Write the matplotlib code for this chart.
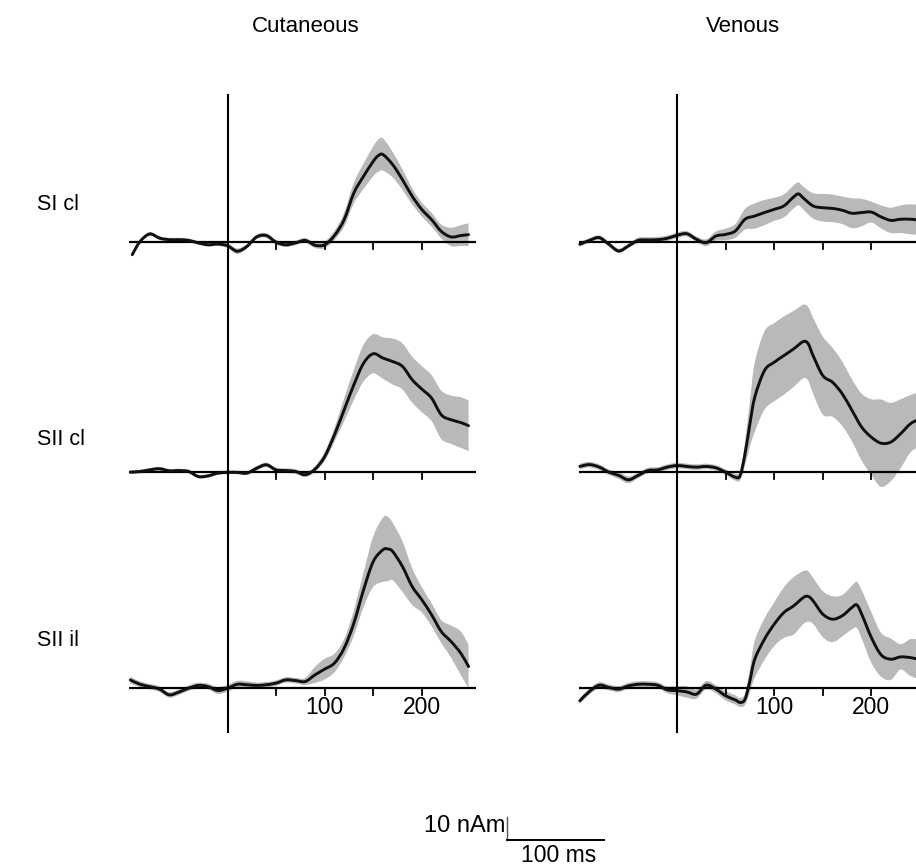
import numpy as np
import matplotlib
matplotlib.use("Agg")
import matplotlib.pyplot as plt
from matplotlib.path import Path
from matplotlib.patches import PathPatch

plt.rcParams['font.family'] = ['Liberation Sans', 'DejaVu Sans']

# ---------------- data (time in ms, amplitude in nAm) ----------------
columns = ["Cutaneous", "Venous"]
rows = ["SI cl", "SII cl", "SII il"]
tick_ms = [50, 100, 150, 200]
tick_labels = {100: "100", 200: "200"}

# Cutaneous, SI cl
cut_si_t = [-98, -90, -80, -70, -60, -50, -40, -30, -20, -10, 0, 10, 20, 30, 40, 50, 60, 70, 80, 90,
            100, 110, 120, 130, 140, 150, 155, 160, 170, 180, 190, 200, 210, 220, 230, 240, 248]
cut_si_m = [-5.5, 0.2, 3.5, 1.7, 1.0, 1.0, 0.7, -0.4, -1.2, -0.9, -1.6, -4.0, -1.9, 2.2, 2.8, -0.1, -1.2, -0.4, 0.7, -1.4,
            -1.2, 2.8, 9.7, 21.3, 28.6, 35.1, 37.5, 38.0, 33.6, 27.1, 19.9, 14.1, 9.7, 4.6, 2.2, 2.8, 3.2]
cut_si_e = [0.8, 0.8, 0.8, 0.8, 0.8, 0.8, 0.8, 0.8, 0.8, 0.8, 1.0, 1.2, 1.0, 1.0, 1.0, 1.0, 1.0, 1.0, 1.0, 1.2,
            1.5, 2.0, 3.0, 4.5, 5.5, 6.5, 7.0, 7.0, 5.5, 4.5, 3.5, 3.0, 3.0, 3.0, 4.0, 4.5, 5.0]

# Venous, SI cl
ven_si_t = [-100, -90, -80, -70, -60, -50, -40, -30, -20, -10, 0, 10, 20, 30, 40, 50, 60, 70, 80, 90,
            100, 110, 120, 125, 130, 140, 150, 160, 170, 180, 190, 200, 210, 220, 230, 240, 248]
ven_si_m = [-1.0, 0.7, 1.9, -1.0, -3.9, -1.7, 0.7, 0.9, 1.0, 1.6, 2.9, 3.6, 1.2, -0.3, 2.6, 3.3, 4.8, 9.9, 11.3, 12.8,
            14.2, 15.7, 19.6, 20.9, 19.1, 15.7, 14.9, 14.6, 13.8, 12.5, 12.8, 13.0, 10.9, 9.4, 9.9, 9.9, 9.6]
ven_si_e = [1.0, 1.0, 1.0, 1.0, 1.0, 1.0, 1.2, 1.2, 1.2, 1.2, 1.2, 1.2, 1.2, 1.5, 2.0, 2.5, 3.0, 4.5, 5.5, 5.5,
            5.0, 5.0, 5.0, 5.0, 5.0, 5.5, 6.0, 6.0, 6.0, 6.5, 6.0, 4.5, 5.0, 5.5, 6.0, 6.5, 6.5]

# Cutaneous, SII cl
cut_s2c_t = [-100, -90, -80, -70, -60, -50, -40, -30, -20, -10, 0, 10, 20, 30, 40, 50, 60, 70, 80, 90,
             100, 110, 120, 130, 140, 150, 160, 170, 180, 190, 200, 210, 220, 230, 240, 248]
cut_s2c_m = [-0.3, 0.0, 0.7, 1.2, 0.3, 0.4, 0.0, -2.2, -1.9, -0.7, -0.4, -0.4, -0.7, 1.4, 2.9, 0.7, 0.4, 0.0, -1.4, 1.0,
             6.5, 15.9, 26.8, 37.7, 47.1, 51.2, 49.3, 47.8, 45.7, 39.9, 35.8, 31.9, 24.6, 22.5, 21.3, 19.9]
cut_s2c_e = [0.8, 0.8, 0.8, 0.8, 0.8, 0.8, 0.8, 0.8, 0.8, 0.8, 0.8, 0.8, 0.8, 1.0, 1.0, 1.0, 1.0, 1.0, 1.0, 1.2,
             2.0, 3.0, 5.0, 6.5, 8.0, 8.5, 9.0, 10.0, 10.0, 10.0, 10.0, 10.0, 10.5, 10.5, 11.0, 11.0]

# Venous, SII cl
ven_s2c_t = [-100, -90, -80, -70, -60, -50, -40, -30, -20, -10, 0, 10, 20, 30, 40, 50, 60, 65, 70, 75, 80, 90,
             100, 110, 120, 130, 135, 140, 150, 160, 170, 180, 190, 200, 210, 220, 230, 240, 248]
ven_s2c_m = [2.2, 3.0, 1.9, -0.3, -1.7, -3.6, -1.7, 0.4, 0.7, 1.9, 2.6, 2.2, 1.9, 2.2, 1.6, -0.3, -2.5, -1.7, 7.7, 20.7, 32.3, 43.9,
             47.5, 50.4, 53.3, 56.5, 55.5, 50.4, 41.7, 38.8, 33.8, 26.6, 19.3, 14.9, 12.3, 12.8, 16.4, 20.7, 22.5]
ven_s2c_e = [1.2, 1.2, 1.2, 1.2, 1.5, 1.5, 1.2, 1.2, 1.2, 1.2, 1.2, 1.2, 1.2, 1.2, 1.2, 1.2, 1.5, 2.0, 5.0, 10.0, 15.0, 17.0,
             17.0, 17.0, 16.5, 16.0, 16.0, 16.5, 17.0, 15.0, 14.0, 13.5, 14.5, 16.5, 19.0, 17.0, 15.0, 12.5, 12.0]

# Cutaneous, SII il
cut_s2i_t = [-100, -90, -80, -70, -60, -50, -40, -30, -20, -10, 0, 10, 20, 30, 40, 50, 60, 70, 80, 90,
             100, 110, 120, 130, 140, 150, 160, 165, 170, 180, 190, 200, 210, 220, 230, 240, 248]
cut_s2i_m = [3.3, 1.4, 0.4, -0.7, -3.2, -2.0, -0.3, 0.9, 0.4, -1.3, -0.3, 1.4, 1.2, 0.9, 1.2, 1.9, 3.3, 3.0, 2.6, 5.5,
             8.0, 10.6, 17.1, 28.0, 42.5, 54.8, 59.9, 60.2, 59.1, 52.6, 43.9, 38.1, 31.6, 24.3, 20.0, 14.9, 9.1]
cut_s2i_e = [1.5, 1.2, 1.2, 1.2, 1.2, 1.2, 1.2, 1.2, 1.2, 1.5, 1.5, 1.5, 1.5, 1.2, 1.2, 1.2, 1.2, 1.2, 1.5, 3.5,
             4.5, 4.0, 4.0, 5.5, 7.5, 11.0, 14.0, 14.0, 12.5, 11.0, 8.0, 5.5, 5.0, 5.0, 7.0, 9.5, 9.5]

# Venous, SII il
ven_s2i_t = [-100, -90, -80, -70, -60, -50, -40, -30, -20, -10, 0, 10, 20, 30, 40, 50, 60, 65, 70, 75, 80, 90,
             100, 110, 120, 130, 135, 140, 150, 160, 170, 180, 185, 190, 200, 210, 220, 230, 240, 248]
ven_s2i_m = [-5.8, -1.7, 1.0, 0.0, -0.7, 0.7, 1.4, 1.4, 1.0, -1.0, -1.4, -1.9, -2.9, 1.0, -0.7, -3.6, -5.4, -6.5, -5.1, 2.9, 12.3, 21.0,
             27.5, 32.6, 35.5, 39.1, 39.6, 37.7, 31.9, 29.7, 31.2, 34.8, 35.9, 31.9, 21.7, 14.2, 12.3, 13.3, 13.0, 12.3]
ven_s2i_e = [1.3, 1.3, 1.3, 1.3, 1.3, 1.3, 1.3, 1.3, 1.3, 1.5, 2.0, 2.5, 2.0, 1.8, 1.8, 2.0, 2.0, 2.0, 2.5, 5.0, 8.0, 9.0,
             9.5, 11.0, 12.5, 11.5, 11.0, 10.0, 10.0, 10.0, 9.0, 9.5, 10.0, 10.5, 11.0, 9.5, 9.0, 5.5, 8.0, 8.5]

panels = {
    ("Cutaneous", "SI cl"): (cut_si_t, cut_si_m, cut_si_e),
    ("Venous", "SI cl"): (ven_si_t, ven_si_m, ven_si_e),
    ("Cutaneous", "SII cl"): (cut_s2c_t, cut_s2c_m, cut_s2c_e),
    ("Venous", "SII cl"): (ven_s2c_t, ven_s2c_m, ven_s2c_e),
    ("Cutaneous", "SII il"): (cut_s2i_t, cut_s2i_m, cut_s2i_e),
    ("Venous", "SII il"): (ven_s2i_t, ven_s2i_m, ven_s2i_e),
}

scale_nAm = 10
scale_ms = 100


# smooth (Catmull-Rom style Bezier) path through the given points; the curve
# passes exactly through every data point, only the drawing is rounded
def smooth_segments(x, y, first=True):
    verts, codes = [], []
    n = len(x)
    for i in range(n):
        if i == 0:
            verts.append((x[0], y[0]))
            codes.append(Path.MOVETO if first else Path.LINETO)
            continue
        x0, y0 = x[max(i - 2, 0)], y[max(i - 2, 0)]
        x1, y1 = x[i - 1], y[i - 1]
        x2, y2 = x[i], y[i]
        x3, y3 = x[min(i + 1, n - 1)], y[min(i + 1, n - 1)]
        c1 = (x1 + (x2 - x0) / 6.0, y1 + (y2 - y0) / 6.0)
        c2 = (x2 - (x3 - x1) / 6.0, y2 - (y3 - y1) / 6.0)
        verts += [c1, c2, (x2, y2)]
        codes += [Path.CURVE4] * 3
    return verts, codes


# ---------------- layout (pixels) ----------------
W, H = 916, 867
PX_MS = 0.972      # pixels per ms
PX_NAM = 2.3       # pixels per nAm
zero_px = {"Cutaneous": 227.5, "Venous": 677.0}
col_px = {"Cutaneous": (118, 476), "Venous": (568, 916)}
ax_bot_px, ax_top_px = 745, 85
base_px = {"SI cl": 242, "SII cl": 471.5, "SII il": 687.5}
vline_px = (95, 732)

fig = plt.figure(figsize=(W / 100, H / 100), dpi=100)
fig.patch.set_facecolor("white")

band_col = "#b9b9b9"
line_col = "#101010"

for col in columns:
    l, r = col_px[col]
    z = zero_px[col]
    ax = fig.add_axes([l / W, 1 - ax_bot_px / H, (r - l) / W, (ax_bot_px - ax_top_px) / H])
    ax.set_xlim((l - z) / PX_MS, (r - z) / PX_MS)
    ax.set_ylim(0, (ax_bot_px - ax_top_px) / PX_NAM)
    ax.set_axis_off()
    xmin, xmax = ax.get_xlim()
    for row in rows:
        off = (ax_bot_px - base_px[row]) / PX_NAM
        t, m, e = (np.asarray(a, float) for a in panels[(col, row)])
        # shaded band (upper edge forward, lower edge backward)
        vu, cu = smooth_segments(t, off + m + e, first=True)
        vl, cl = smooth_segments(t[::-1], (off + m - e)[::-1], first=False)
        band = PathPatch(Path(vu + vl + [vu[0]], cu + cl + [Path.CLOSEPOLY]),
                         facecolor=band_col, edgecolor="none", zorder=1)
        ax.add_patch(band)
        # baseline
        ax.plot([-101, xmax + 5], [off, off], color="black", lw=1.6, zorder=2, solid_capstyle="butt")
        # ticks
        for tk in tick_ms:
            ax.plot([tk, tk], [off, off - 7 / PX_NAM], color="black", lw=1.3, zorder=2)
        # mean curve
        vm, cm = smooth_segments(t, off + m, first=True)
        ax.add_patch(PathPatch(Path(vm, cm), facecolor="none", edgecolor=line_col, lw=2.1,
                               capstyle="round", joinstyle="round", zorder=3))
        if row == rows[-1]:
            for tk, lab in tick_labels.items():
                ax.text(tk, off - 9 / PX_NAM, lab, ha="center", va="top", fontsize=16.5)
    # vertical zero line spanning all rows
    ax.plot([0, 0], [(ax_bot_px - vline_px[1]) / PX_NAM, (ax_bot_px - vline_px[0]) / PX_NAM],
            color="black", lw=1.5, zorder=4)

# column titles
fig.text(306 / W, 1 - 27 / H, "Cutaneous", ha="center", va="center", fontsize=16)
fig.text(743 / W, 1 - 27 / H, "Venous", ha="center", va="center", fontsize=16)

# row labels
for row, ypx in zip(rows, [204, 440, 640]):
    fig.text(37 / W, 1 - ypx / H, row, ha="left", va="center", fontsize=15.5)

# scale bar
sax = fig.add_axes([0, 0, 1, 1], facecolor="none")
sax.set_xlim(0, W)
sax.set_ylim(H, 0)
sax.set_axis_off()
sx, sy = 507, 840
sax.plot([sx, sx], [sy, sy - scale_nAm * PX_NAM], color="#555555", lw=1.0)
sax.plot([sx, sx + scale_ms * PX_MS], [sy, sy], color="black", lw=1.4)
sax.text(sx - 2, sy - 3, f"{scale_nAm} nAm", ha="right", va="bottom", fontsize=17)
sax.text(sx + scale_ms * PX_MS / 2 + 3, sy + 4, f"{scale_ms} ms", ha="center", va="top", fontsize=16.5)

fig.savefig("out.png", dpi=100, facecolor="white")
